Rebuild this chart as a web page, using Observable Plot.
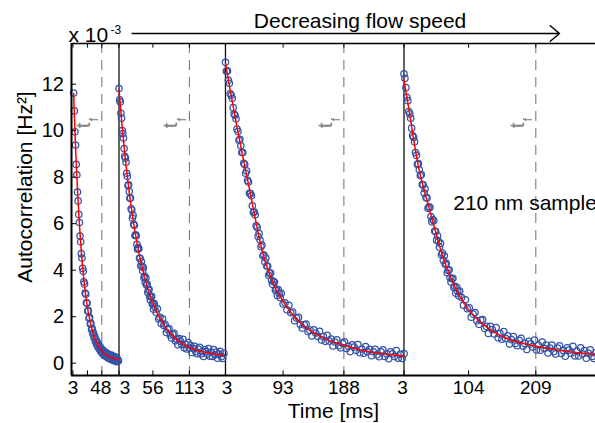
<!DOCTYPE html>
<html>
<head>
<meta charset="utf-8">
<script src="https://cdn.jsdelivr.net/npm/d3@7"></script>
<script src="https://cdn.jsdelivr.net/npm/@observablehq/plot@0.6"></script>
<style>
  html, body { margin: 0; padding: 0; background: #fff; }
  #chart { width: 595px; height: 423px; overflow: hidden; }
</style>
</head>
<body>
<div id="chart"></div>
<script>
// ---------- data (autocorrelation in units of 1e-3 Hz^2, time in ms) ----------
// panel 1 (fastest flow): samples every 1 ms from t = 4 ms
const p1Start = 4, p1Step = 1;
const p1Values = [11.62,10.85,9.95,9.38,8.55,8.10,7.36,6.98,6.40,6.05,
  5.47,5.22,4.71,4.52,4.08,3.95,3.50,3.41,3.02,2.97,
  2.60,2.58,2.24,2.26,1.93,1.97,1.68,1.71,1.44,1.50,
  1.25,1.31,1.08,1.16,0.93,1.02,0.80,0.90,0.70,0.81,
  0.61,0.72,0.52,0.63,0.45,0.57,0.40,0.52,0.34,0.47,
  0.30,0.44,0.27,0.40,0.22,0.37,0.20,0.33,0.17,0.35,
  0.15,0.30,0.12,0.28,0.10,0.26,0.08,0.24,0.06,0.15,0.10];

// panel 2
const p2EarlyStart = 3, p2EarlyStep = 1;
const p2EarlyValues = [11.81,11.33,11.23,10.75,10.54,10.01,9.88,9.68,9.23,8.90,
  8.82,8.64,8.17,8.04,7.64,7.67,7.38,7.09,7.10,6.64,
  6.59,6.24,6.35,5.97,5.93,5.49,5.52,5.48,5.11,4.90,
  4.97,4.92,4.52,4.51,4.18,4.37,4.17,3.96,4.11,3.67,
  3.74,3.47,3.67,3.36,3.40,3.04,3.14,3.18,2.87,2.72,
  2.87,2.88,2.54,2.59,2.32,2.56,2.42];
const p2LateStart = 61, p2LateStep = 2;
const p2LateValues = [2.19,2.34,1.90,1.97,1.71,1.91,1.62,1.67,1.32,1.44,
  1.49,1.21,1.08,1.24,1.28,0.96,1.03,0.79,1.06,0.94,
  0.80,1.03,0.66,0.81,0.61,0.89,0.65,0.76,0.46,0.63,
  0.73,0.49,0.41,0.61,0.68,0.40,0.50,0.29,0.59,0.50,
  0.39,0.63,0.30,0.47,0.29,0.58,0.36,0.48,0.21,0.39,
  0.51,0.28,0.20,0.42];

// panel 3
const p3EarlyStart = 3, p3EarlyStep = 1.5;
const p3EarlyValues = [12.94,12.56,12.57,12.17,12.04,11.59,11.52,11.39,10.99,10.71,
  10.66,10.51,10.07,9.96,9.59,9.63,9.35,9.06,9.06,8.60,
  8.55,8.17,8.27,7.86,7.79,7.31,7.29,7.20,6.77,6.49,
  6.50,6.38,5.91,5.84,5.45,5.57,5.30,5.01,5.08,4.62,
  4.66,4.36,4.52,4.18,4.17,3.78,3.86,3.88,3.56,3.39,
  3.51,3.49,3.14,3.19,2.91,3.15,2.99,2.82,3.00];
const p3LateStart = 93, p3LateStep = 3;
const p3LateValues = [2.54,2.60,2.30,2.49,2.17,2.20,1.83,1.94,1.97,1.66,
  1.51,1.65,1.68,1.36,1.42,1.17,1.43,1.30,1.16,1.37,
  1.00,1.14,0.94,1.20,0.95,1.04,0.74,0.91,1.00,0.75,
  0.66,0.86,0.92,0.63,0.73,0.50,0.79,0.69,0.56,0.80,
  0.45,0.61,0.43,0.71,0.49,0.60,0.32,0.49,0.60,0.36,
  0.28,0.49,0.57,0.29,0.40,0.19,0.49,0.40,0.29,0.54,
  0.21,0.38,0.20,0.41];

// panel 4 (slowest flow)
const p4EarlyStart = 3, p4EarlyStep = 1.5;
const p4EarlyValues = [12.45,12.25,11.85,11.44,11.29,10.82,10.72,10.54,10.11,9.79,
  9.71,9.52,9.06,8.94,8.55,8.58,8.32,8.07,8.11,7.68,
  7.67,7.32,7.50,7.12,7.11,6.66,6.72,6.70,6.31,6.08,
  6.18,6.13,5.68,5.66,5.29,5.48,5.24,4.99,5.15,4.66,
  4.74,4.42,4.62,4.26,4.29,3.89,3.99,4.02,3.67,3.49,
  3.63,3.65,3.26,3.31,3.01,3.26,3.09,2.90,3.10];
const p4LateStart = 93, p4LateStep = 3;
const p4LateValues = [2.82,2.49,2.73,2.34,2.38,1.98,2.11,2.18,1.83,1.67,
  1.85,1.88,1.50,1.58,1.28,1.59,1.44,1.26,1.53,1.09,
  1.27,1.03,1.36,1.06,1.18,0.82,1.01,1.14,0.85,0.75,
  0.98,1.07,0.73,0.85,0.59,0.94,0.83,0.70,0.99,0.57,
  0.78,0.56,0.91,0.63,0.78,0.44,0.65,0.78,0.50,0.40,
  0.65,0.75,0.42,0.55,0.30,0.66,0.56,0.43,0.72,0.31,
  0.52,0.31,0.66,0.39,0.54,0.21,0.43,0.57,0.29,0.20,0.45];

// exponential fits (red lines), read at knots
const fit1Time = [4,6,8,10,13,16,20,25,30,36,43,50,58,66,74];
const fit1Value = [11.6,10.01,8.63,7.45,5.98,4.80,3.59,2.50,1.75,1.16,0.73,0.47,0.30,0.21,0.16];
const fit2Time = [3,11,19,27,35,43,53,63,75,89,105,123,145,167];
const fit2Value = [11.77,9.29,7.35,5.83,4.63,3.69,2.80,2.14,1.57,1.12,0.79,0.57,0.43,0.35];
const fit3Time = [3,10,20,30,40,50,60,70,80,90,100,110,125,140,155,170,188,214,245,282];
const fit3Value = [12.9,11.8,10.3,8.9,7.55,6.15,4.88,3.98,3.3,2.8,2.38,2.03,1.6,1.32,1.10,0.92,0.77,0.57,0.42,0.31];
const fit4Time = [3,10,15,20,26,34,42,50,58,68,78,90,105,125,145,170,190,210,245,286,306];
const fit4Value = [12.2,11.05,10.17,9.3,8.4,7.5,6.7,5.9,5.1,4.25,3.55,2.88,2.26,1.71,1.31,1.00,0.85,0.73,0.56,0.42,0.37];

// t_f marker per panel (ms)
const tfTime = [48, 113, 188, 209];

// axis ticks
const xTickPanel = [0,0,0,1,1,1,2,2,2,3,3,3];
const xTickTime  = [3,25.5,48,3,56,113,3,93,188,3,104,209];
const xTickLabel = ["3","","48","3","56","113","3","93","188","3","104","209"];
const yTicks = [0,2,4,6,8,10,12];

// texts
const titleText = "Decreasing flow speed";
const xLabel = "Time [ms]";
const yLabel = "Autocorrelation [Hz²]";
const sampleText = "210 nm sample";

// ---------- layout (shared time axis made of 4 consecutive panels) ----------
const panelOffset = [-0.66, 71.22, 237.6, 516.5];
const X_DOMAIN = [0, 818.75];
const Y_DOMAIN = [-0.53, 13.75];
const xTickLabelNudge = [0,0,-1,6,0,0,1.5,0,0,-1.5,0,0]; // px, as the labels sit in the picture

const segments = [
  [0, p1Start, p1Step, p1Values],
  [1, p2EarlyStart, p2EarlyStep, p2EarlyValues],
  [1, p2LateStart, p2LateStep, p2LateValues],
  [2, p3EarlyStart, p3EarlyStep, p3EarlyValues],
  [2, p3LateStart, p3LateStep, p3LateValues],
  [3, p4EarlyStart, p4EarlyStep, p4EarlyValues],
  [3, p4LateStart, p4LateStep, p4LateValues]
];
const points = segments.flatMap(([p, s, st, vals]) =>
  vals.map((v, i) => ({g: panelOffset[p] + s + i * st, v})));

const fits = [[fit1Time, fit1Value],[fit2Time, fit2Value],[fit3Time, fit3Value],[fit4Time, fit4Value]];
const fitPoints = fits.flatMap(([T, V], p) => T.map((t, i) => ({g: panelOffset[p] + t, v: V[i], panel: p})));

const tfRows = tfTime.map((t, p) => ({g: panelOffset[p] + t}));
const sepRows = [1,2,3].map(p => ({g: panelOffset[p] + 3}));
const xTicks = xTickTime.map((t, i) => ({g: panelOffset[xTickPanel[i]] + t, label: xTickLabel[i], nudge: xTickLabelNudge[i]}));

const tickLenY = 0.2, tickLenX = 7.8;
const tfLevel = 10.3;
const arrowRow = {g1: 94.8, g2: 762.5, v: 14.18};
const titleRow = {g: 450.8, v: 14.7};
const sampleRow = {g: panelOffset[3] + 80, v: 6.87};

const font = "'Liberation Sans', Arial, Helvetica, sans-serif";

const labelMarks = xTicks.filter(d => d.label).map(d =>
  Plot.text([d], {x: "g", text: "label", frameAnchor: "bottom", lineAnchor: "middle", dx: d.nudge, dy: 12.5, fontSize: 19}));

const chart = Plot.plot({
  width: 595,
  height: 423,
  marginLeft: 71,
  marginRight: 0,
  marginTop: 43,
  marginBottom: 48,
  x: {domain: X_DOMAIN, axis: null},
  y: {domain: Y_DOMAIN, axis: null},
  style: {fontFamily: font, background: "white", overflow: "hidden", color: "black"},
  marks: [
    Plot.ruleX(tfRows, {x: "g", stroke: "#6e6e6e", strokeWidth: 1, strokeDasharray: "10,7"}),
    Plot.ruleX(sepRows, {x: "g", stroke: "#111", strokeWidth: 1.3}),
    Plot.dot(points, {x: "g", y: "v", r: 3.2, stroke: "#3452a6", strokeWidth: 1.25, fill: "none"}),
    Plot.line(fitPoints, {x: "g", y: "v", z: "panel", stroke: "red", strokeWidth: 1.5, curve: "monotone-x"}),
    // frame
    Plot.ruleX([0], {stroke: "black", strokeWidth: 2}),
    Plot.ruleY([Y_DOMAIN[0]], {stroke: "black", strokeWidth: 2}),
    Plot.ruleY([Y_DOMAIN[1]], {stroke: "black", strokeWidth: 1.6}),
    // inward ticks
    Plot.ruleX(xTicks, {x: "g", y1: Y_DOMAIN[0], y2: Y_DOMAIN[0] + tickLenY, stroke: "black", strokeWidth: 1}),
    Plot.ruleX(xTicks, {x: "g", y1: Y_DOMAIN[1], y2: Y_DOMAIN[1] - tickLenY, stroke: "black", strokeWidth: 1}),
    Plot.ruleY(yTicks, {y: d => d, x1: 0, x2: tickLenX, stroke: "black", strokeWidth: 1}),
    // tick labels
    ...labelMarks,
    Plot.text(yTicks, {y: d => d, text: d => String(d), frameAnchor: "left", textAnchor: "end", lineAnchor: "middle", dx: -7.5, fontSize: 20}),
    // axis labels
    Plot.text([xLabel], {frameAnchor: "bottom", lineAnchor: "middle", textAnchor: "middle", dy: 35.5, fontSize: 21}),
    Plot.text([yLabel], {frameAnchor: "left", rotate: -90, textAnchor: "middle", lineAnchor: "middle", dx: -46, dy: -22.5, fontSize: 21}),
    // exponent
    Plot.text(["x 10"], {frameAnchor: "top-left", textAnchor: "start", lineAnchor: "middle", dx: -3, dy: -8.7, fontSize: 21}),
    Plot.text(["-3"], {frameAnchor: "top-left", textAnchor: "start", lineAnchor: "middle", dx: 39, dy: -13.5, fontSize: 12}),
    // title with arrow
    Plot.text([titleRow], {x: "g", y: "v", text: () => titleText, fontSize: 21}),
    Plot.arrow([arrowRow], {x1: "g1", x2: "g2", y1: "v", y2: "v", stroke: "black", strokeWidth: 1.5, headLength: 12, headAngle: 80}),
    // t_f labels
    Plot.text(tfRows, {x: "g", y: tfLevel, text: () => "t", rotate: -90, dx: -19, dy: 1.5, fill: "#808080", fontSize: 21}),
    Plot.text(tfRows, {x: "g", y: tfLevel, text: () => "f", rotate: -90, dx: -8, dy: -4, fill: "#808080", fontSize: 13}),
    // sample annotation
    Plot.text([sampleRow], {x: "g", y: "v", text: () => sampleText, textAnchor: "start", fontSize: 21})
  ]
});
document.getElementById("chart").appendChild(chart);
</script>
</body>
</html>
